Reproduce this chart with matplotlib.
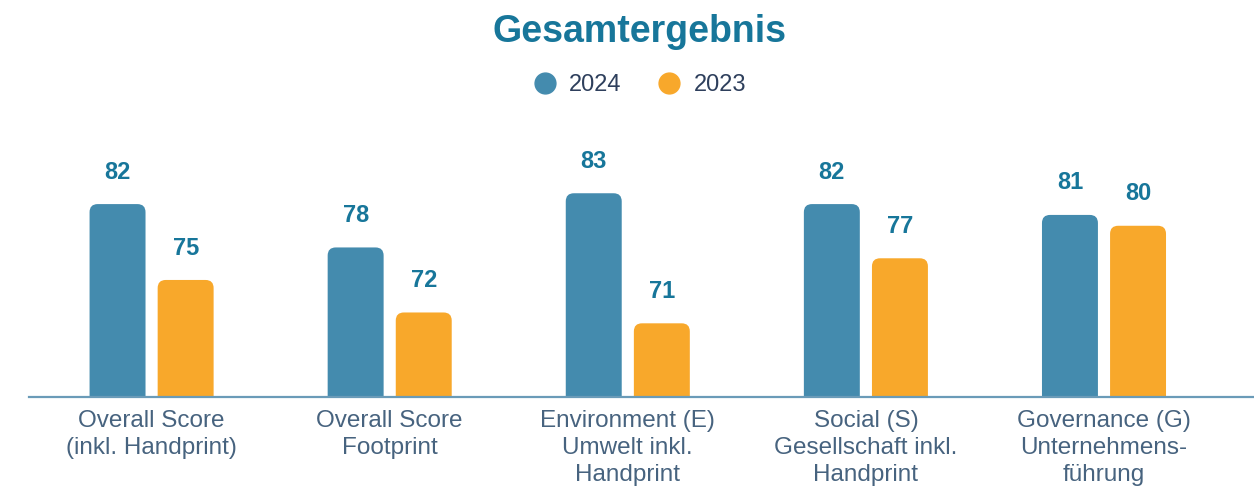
import matplotlib.pyplot as plt
from matplotlib.patches import FancyBboxPatch
from matplotlib.lines import Line2D
import numpy as np

plt.rcParams['font.family'] = ['Liberation Sans', 'DejaVu Sans']

categories = ["Overall Score\n(inkl. Handprint)",
              "Overall Score\nFootprint",
              "Environment (E)\nUmwelt inkl.\nHandprint",
              "Social (S)\nGesellschaft inkl.\nHandprint",
              "Governance (G)\nUnternehmens-\nführung"]
scores_2024 = [82, 78, 83, 82, 81]
scores_2023 = [75, 72, 71, 77, 80]

blue = "#448bae"
orange = "#f8a82b"
title_color = "#17769a"
label_color = "#47637f"

fig = plt.figure(figsize=(12.54, 4.91), dpi=100)
ax = fig.add_axes([0.0231, 0.1914, 0.9769, 0.585])

x = np.arange(len(categories))
w = 0.235
off = 0.143
b1 = ax.bar(x - off, scores_2024, w, color=blue)
b2 = ax.bar(x + off, scores_2023, w, color=orange)

ax.set_xlim(-0.515, 4.63)
ax.set_ylim(64.2, 90.7)

# swap plain bars for rounded ones
for bars in (b1, b2):
    for r in bars:
        r.set_visible(False)
        p = FancyBboxPatch((r.get_x(), r.get_y()), r.get_width(), r.get_height(),
                           boxstyle="round,pad=0,rounding_size=0.034",
                           mutation_aspect=21.9, fc=r.get_facecolor(),
                           ec="none")
        ax.add_patch(p)

for rect, v in zip(b1, scores_2024):
    ax.annotate(str(v), (rect.get_x() + rect.get_width() / 2, v),
                xytext=(0, 23), textcoords="offset points", ha="center",
                va="center", fontsize=17, fontweight="bold", color=title_color)
for rect, v in zip(b2, scores_2023):
    ax.annotate(str(v), (rect.get_x() + rect.get_width() / 2, v),
                xytext=(0, 23), textcoords="offset points", ha="center",
                va="center", fontsize=17, fontweight="bold", color=title_color)

for s in ["top", "left", "right"]:
    ax.spines[s].set_visible(False)
ax.spines["bottom"].set_color("#6a9bb8")
ax.spines["bottom"].set_linewidth(1.6)
ax.set_yticks([])
ax.set_xticks(x)
ax.set_xticklabels(categories, fontsize=17.5, color=label_color, linespacing=1.3)
ax.tick_params(axis="x", length=0, pad=9)

fig.text(0.51, 0.934, "Gesamtergebnis", ha="center", va="center",
         fontsize=27, fontweight="bold", color=title_color)

handles = [Line2D([], [], ls="none", marker="o", ms=15, color=blue),
           Line2D([], [], ls="none", marker="o", ms=15, color=orange)]
fig.legend(handles, ["2024", "2023"], loc="center", bbox_to_anchor=(0.51, 0.827),
           ncol=2, frameon=False, fontsize=17, handlelength=1.0,
           handletextpad=0.55, columnspacing=1.5, labelcolor="#2e3f5c")

fig.savefig("out.png", dpi=100)
